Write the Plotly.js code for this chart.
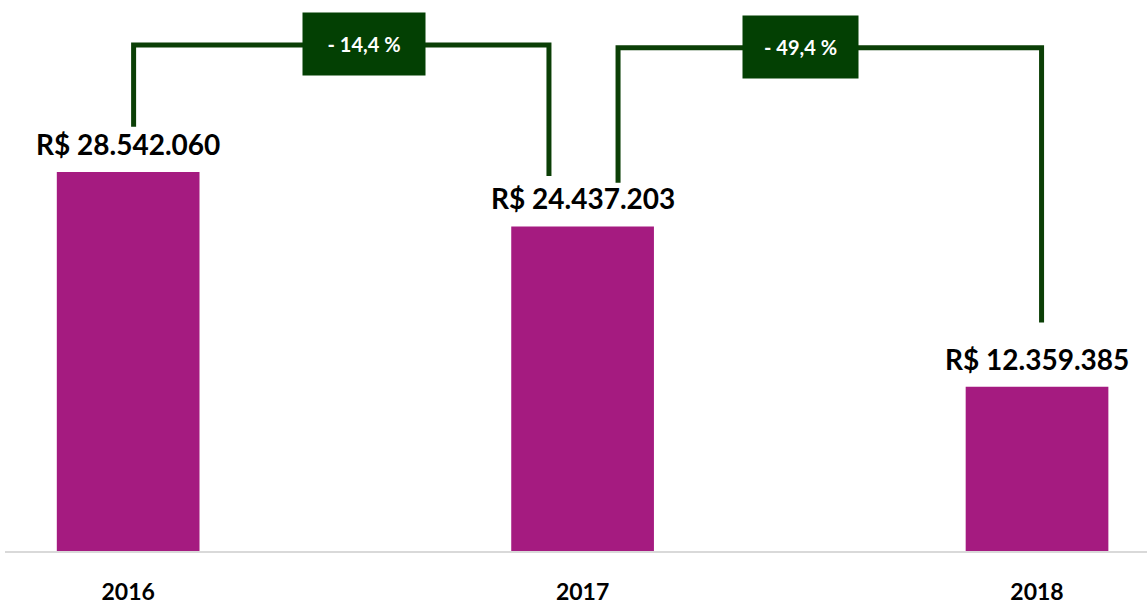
<!DOCTYPE html>
<html><head><meta charset="utf-8">
<script src="https://cdn.plot.ly/plotly-3.0.1.min.js"></script>
<style>html,body{margin:0;padding:0;background:#fff;}#chart{width:1147px;height:604px;}</style>
</head><body><div id="chart"></div>
<script>
const years = ['2016', '2017', '2018'];
const values = [28542060, 24437203, 12359385];

function fmtBRL(v){ return 'R$ ' + v.toLocaleString('de-DE'); }
function fmtPct(a,b){ const p=(b/a-1)*100; return (p<0?'- ':'+ ') + Math.abs(p).toFixed(1).replace('.',',') + ' %'; }

const barColor = '#a51b80';
const green = '#0b3f06';
const boxGreen = '#034003';
const M = 1e6;

const trace = {
  type:'bar', x: years, y: values,
  marker:{color: barColor},
  hoverinfo:'skip'
};

const annotations = values.map((v,i)=>({
  x: i, y: v, xref:'x', yref:'y', text: fmtBRL(v),
  showarrow:false, yanchor:'bottom', yshift: 9,
  font:{family:'Lato, sans-serif', size:28, color:'#000', weight:700}
}));

// bracket connectors between consecutive years
const bracket = [
  {x0:0.012, x1:0.926, top:38.1*M, d0:3.4*M, d1:3.8*M, bx:0.52, by:38.2*M, bw:122},
  {x0:1.078, x1:2.010, top:37.9*M, d0:3.3*M, d1:4.85*M, bx:1.48, by:37.95*M, bw:115}
];
const shapes = [];
bracket.forEach((b,i)=>{
  const y0 = values[i] + b.d0, y1 = values[i+1] + b.d1;
  shapes.push({type:'path', xref:'x', yref:'y',
    path:`M ${b.x0} ${y0} L ${b.x0} ${b.top} L ${b.x1} ${b.top} L ${b.x1} ${y1}`,
    line:{color:green, width:5}});
  annotations.push({x:b.bx, y:b.by, xref:'x', yref:'y', text: fmtPct(values[i], values[i+1]),
    showarrow:false, bgcolor:boxGreen, width:b.bw, height:62, borderpad:0,
    font:{family:'Lato, sans-serif', size:20, color:'#fff', weight:700}});
});

const layout = {
  width:1147, height:604,
  margin:{l:5, r:0, t:0, b:53},
  paper_bgcolor:'#fff', plot_bgcolor:'#fff',
  bargap:0.686,
  showlegend:false,
  xaxis:{type:'category', range:[-0.271, 2.242], showgrid:false, zeroline:false,
    showline:true, linecolor:'#d9d9d9', linewidth:2, ticks:'',
    ticklabelstandoff:19,
    tickfont:{family:'Lato, sans-serif', size:23, color:'#000', weight:700}},
  yaxis:{range:[0, 41.49*M], visible:false, showgrid:false, zeroline:false},
  shapes: shapes,
  annotations: annotations
};
Plotly.newPlot('chart', [trace], layout, {displayModeBar:false, staticPlot:true});
</script></body></html>
